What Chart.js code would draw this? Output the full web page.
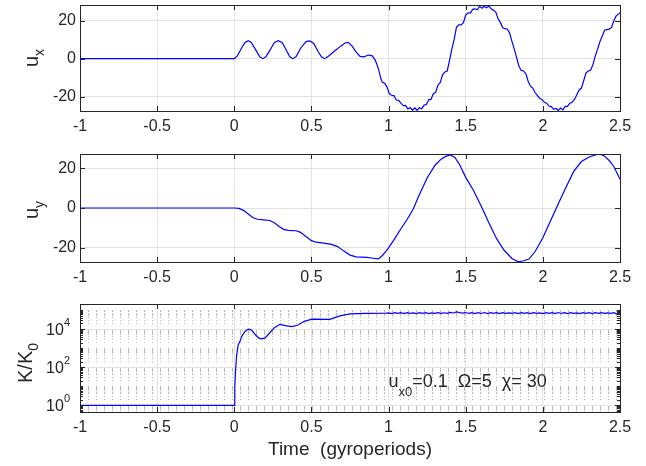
<!DOCTYPE html>
<html>
<head>
<meta charset="utf-8">
<script src="https://cdn.jsdelivr.net/npm/chart.js@4.4.0/dist/chart.umd.min.js"></script>
<style>
  html, body { margin: 0; padding: 0; background: #fff; }
  .panel { position: absolute; left: 0; width: 646px; }
</style>
</head>
<body>
<div class="panel" style="top:0;height:140px"><canvas id="cUx"></canvas></div>
<div class="panel" style="top:140px;height:150px"><canvas id="cUy"></canvas></div>
<div class="panel" style="top:290px;height:176px"><canvas id="cK"></canvas></div>
<script>
// ---- data ----
var timeTicks = [-1, -0.5, 0, 0.5, 1, 1.5, 2, 2.5];
var uTicks = [-20, 0, 20];
var kMajor = [1, 100, 10000];
var kGrid = [0.5, 0.6, 0.7, 0.8, 0.9, 1, 2, 3, 4, 5, 6, 7, 8, 9, 10, 20, 30, 40, 50, 60, 70, 80, 90,
  100, 200, 300, 400, 500, 600, 700, 800, 900, 1000, 2000, 3000, 4000, 5000, 6000, 7000, 8000, 9000,
  10000, 20000, 30000, 40000, 50000, 60000, 70000, 80000, 90000, 100000, 200000];

var tUx = [-1, 0, 0.02, 0.05, 0.07, 0.09, 0.11, 0.14, 0.165, 0.185, 0.205, 0.235, 0.26, 0.285, 0.31, 0.34,
  0.36, 0.378, 0.4, 0.43, 0.465, 0.49, 0.515, 0.545, 0.565, 0.585, 0.61, 0.65, 0.69, 0.72, 0.74, 0.765,
  0.79, 0.815, 0.84, 0.87, 0.895, 0.915, 0.935, 0.95, 0.96, 0.975, 0.99, 1.005, 1.02, 1.035, 1.05, 1.065,
  1.08, 1.095, 1.11, 1.125, 1.14, 1.155, 1.17, 1.185, 1.2, 1.215, 1.23, 1.245, 1.26, 1.275, 1.29, 1.305,
  1.32, 1.335, 1.35, 1.365, 1.38, 1.395, 1.41, 1.425, 1.44, 1.455, 1.47, 1.485, 1.5, 1.515, 1.53, 1.545,
  1.56, 1.575, 1.59, 1.605, 1.62, 1.635, 1.65, 1.665, 1.68, 1.695, 1.71, 1.725, 1.74, 1.755, 1.77, 1.785,
  1.8, 1.815, 1.83, 1.845, 1.86, 1.875, 1.89, 1.905, 1.92, 1.935, 1.95, 1.965, 1.98, 1.995, 2.01, 2.025,
  2.04, 2.055, 2.07, 2.085, 2.1, 2.115, 2.13, 2.145, 2.16, 2.175, 2.19, 2.205, 2.22, 2.235, 2.25, 2.265,
  2.28, 2.295, 2.31, 2.325, 2.34, 2.355, 2.37, 2.385, 2.4, 2.415, 2.43, 2.445, 2.46, 2.475, 2.49, 2.5];
var ux = [0, 0, 1.5, 6, 8.6, 9.5, 8.6, 4.5, 1, 0, 1, 5, 8.6, 9.5, 8.5, 4,
  1, 0, 1, 5.5, 9, 9.4, 8, 3.5, 1, 0, 1.3, 4, 6.6, 8.4, 8.5, 6.5,
  3.5, 1.2, 1, 1.9, 1.5, -1, -5.5, -10.5, -12.5, -13, -15, -18.5, -19.3, -19.5, -21.8, -22,
  -23.5, -24.8, -24.6, -26.5, -25.8, -27.2, -26, -27.2, -25.8, -26.5, -24.5, -24.2, -21.7, -21.5, -18.5, -17.8,
  -14, -12.5, -8.5, -7, -6.5, -1, 5, 10, 16.5, 17.8, 17.8, 19, 23, 24.2, 24, 26,
  26.3, 25.8, 27.6, 26.6, 27.6, 26.8, 27.8, 26.3, 25.5, 24.6, 21, 19, 16.3, 15.8, 15.5, 13.5,
  9, 5, 0.5, -4, -6.2, -6.5, -8, -12, -14.5, -15.5, -18, -19.5, -21, -21.5, -23, -23.5,
  -25, -25.3, -26.7, -26.3, -27.3, -26, -27, -25.2, -25.2, -23.5, -23, -21.5, -19, -16.5, -15.5, -11.5,
  -7.5, -6.5, -6, -3, 1.5, 5, 9, 12, 15, 15.3, 15.6, 16.5, 20, 22.5, 23.5, 24.2];

var tUy = [-1, 0, 0.03, 0.06, 0.09, 0.12, 0.15, 0.19, 0.23, 0.26, 0.29, 0.32, 0.35, 0.4, 0.43, 0.46,
  0.5, 0.53, 0.58, 0.63, 0.67, 0.71, 0.75, 0.79, 0.86, 0.9, 0.935, 0.96, 0.98, 1.0, 1.04, 1.08,
  1.12, 1.16, 1.2, 1.25, 1.3, 1.34, 1.37, 1.4, 1.43, 1.46, 1.5, 1.55, 1.6, 1.65, 1.7, 1.75,
  1.8, 1.84, 1.87, 1.91, 1.95, 2.0, 2.05, 2.1, 2.15, 2.2, 2.25, 2.3, 2.34, 2.37, 2.4, 2.43, 2.46, 2.5];
var uy = [0, 0, -0.2, -1.2, -3, -4.8, -5.7, -6, -6.3, -7.5, -9.3, -10.8, -11.3, -11.5, -12.3, -14.2,
  -16.5, -17.3, -17.8, -18.4, -19.5, -21.8, -23.8, -24.7, -25, -25.4, -25.7, -24, -22.2, -20.2, -15.5, -10.5,
  -5.8, -0.5, 6.8, 15.2, 21.5, 24.7, 26.1, 26.8, 25.6, 22, 15.5, 9, 1, -7.5, -15.5, -21.5,
  -25.5, -27.2, -26.8, -25.8, -22, -15, -6.5, 2.2, 10.5, 18.5, 23.5, 25.8, 26.8, 27.3, 26.2, 24, 21, 14.5];

var tK = [-1, 0, 0.003, 0.008, 0.015, 0.025, 0.037, 0.05, 0.069, 0.085, 0.097, 0.115, 0.14, 0.16, 0.178, 0.2,
  0.23, 0.26, 0.296, 0.33, 0.372, 0.41, 0.45, 0.502, 0.62, 0.685, 0.75, 0.85, 0.987,
  1.0, 1.02, 1.04, 1.06, 1.08, 1.1, 1.12, 1.14, 1.16, 1.18, 1.2, 1.22, 1.24, 1.26, 1.28, 1.3,
  1.32, 1.34, 1.36, 1.38, 1.4, 1.42, 1.44, 1.46, 1.48, 1.5, 1.52, 1.54, 1.56, 1.58, 1.6, 1.62,
  1.64, 1.66, 1.68, 1.7, 1.72, 1.74, 1.76, 1.78, 1.8, 1.82, 1.84, 1.86, 1.88, 1.9, 1.92, 1.94,
  1.96, 1.98, 2.0, 2.02, 2.04, 2.06, 2.08, 2.1, 2.12, 2.14, 2.16, 2.18, 2.2, 2.22, 2.24, 2.26,
  2.28, 2.3, 2.32, 2.34, 2.36, 2.38, 2.4, 2.42, 2.44, 2.46, 2.48, 2.5];
var kRatio = [1, 1, 8, 60, 400, 1500, 2300, 4500, 7400, 9500, 10000, 8500, 4800, 3400, 3100, 3500,
  6500, 12000, 18000, 15500, 13800, 16000, 25000, 34000, 33000, 50000, 64000, 68000, 70000,
  72000, 66000, 74000, 67000, 73000, 66000, 74000, 67000, 72000, 66000, 73000, 67000, 74000, 66000, 72000, 67000,
  74000, 67000, 73000, 68000, 76000, 71000, 80000, 74000, 70000, 75000, 67000, 74000, 66000, 73000, 67000, 75000,
  66000, 74000, 67000, 73000, 66000, 74000, 67000, 72000, 67000, 73000, 66000, 74000, 67000, 73000, 66000, 74000,
  67000, 72000, 66000, 74000, 67000, 73000, 66000, 75000, 67000, 73000, 66000, 74000, 67000, 72000, 66000, 73000,
  67000, 74000, 66000, 73000, 67000, 74000, 68000, 72000, 68000, 74000, 62000, 75000];

// ---- styling ----
var FONT = '"Liberation Sans", Arial, Helvetica, sans-serif';
var INK = '#262626';
var GRID = '#e3e3e3';

function pts(xs, ys) {
  return xs.map(function (x, i) { return { x: x, y: ys[i] }; });
}
function isMajorK(v) {
  return kMajor.some(function (m) { return Math.abs(v - m) < m * 1e-6; });
}

// extra per-chart drawing (labels with subscripts, inward ticks, box)
var extras = {
  cUx: { label: [['u', 0], ['x', 1]], lx: 38, ly: 58 },
  cUy: { label: [['u', 0], ['y', 1]], lx: 38, ly: 70 },
  cK: { label: [['K/K', 0], ['0', 1]], lx: 32, ly: 73, log: true }
};

function drawParts(ctx, parts, x, y, mainSize, subSize, subDrop, align) {
  var w = 0;
  parts.forEach(function (p) {
    ctx.font = (p[1] ? subSize : mainSize) + 'px ' + FONT;
    w += ctx.measureText(p[0]).width;
  });
  var cx = align === 'center' ? x - w / 2 : x;
  ctx.textAlign = 'left';
  ctx.textBaseline = 'alphabetic';
  parts.forEach(function (p) {
    ctx.font = (p[1] ? subSize : mainSize) + 'px ' + FONT;
    ctx.fillText(p[0], cx, y + (p[1] ? subDrop : 0));
    cx += ctx.measureText(p[0]).width;
  });
}

var framePlugin = {
  id: 'frame',
  afterDatasetsDraw: function (chart) {
    var ex = extras[chart.canvas.id];
    var ctx = chart.ctx, a = chart.chartArea;
    var xs = chart.scales.x, ys = chart.scales.y;
    ctx.save();
    ctx.strokeStyle = INK;
    ctx.lineWidth = 1;
    ctx.beginPath();
    xs.ticks.forEach(function (t) {
      var px = Math.round(xs.getPixelForValue(t.value)) + 0.5;
      ctx.moveTo(px, a.bottom); ctx.lineTo(px, a.bottom - 5);
      ctx.moveTo(px, a.top); ctx.lineTo(px, a.top + 5);
    });
    ys.ticks.forEach(function (t) {
      var len = (!ex.log || isMajorK(t.value)) ? 5 : 3;
      var py = Math.round(ys.getPixelForValue(t.value)) + 0.5;
      if (py < a.top || py > a.bottom) return;
      ctx.moveTo(a.left, py); ctx.lineTo(a.left + len, py);
      ctx.moveTo(a.right, py); ctx.lineTo(a.right - len, py);
    });
    ctx.stroke();
    ctx.strokeRect(Math.round(a.left) + 0.5, Math.round(a.top) + 0.5,
      Math.round(a.right - a.left), Math.round(a.bottom - a.top));

    ctx.fillStyle = INK;
    if (ex.log) {
      // log tick labels 10^n
      kMajor.forEach(function (v) {
        var py = ys.getPixelForValue(v);
        var exp = String(Math.round(Math.log10(v)));
        ctx.font = '11px ' + FONT;
        var ew = ctx.measureText(exp).width;
        ctx.textAlign = 'right';
        ctx.textBaseline = 'alphabetic';
        ctx.fillText(exp, 70, py - 3);
        ctx.font = '16px ' + FONT;
        ctx.fillText('10', 70 - ew, py + 6);
      });
      // parameter annotation
      drawParts(ctx, [['u', 0], ['x0', 1], ['=0.1  \u03A9=5  \u03C7= 30', 0]],
        xs.getPixelForValue(1), 97, 18, 13, 9, 'left');
    }
    // rotated y label
    ctx.translate(ex.lx, ex.ly);
    ctx.rotate(-Math.PI / 2);
    drawParts(ctx, ex.label, 0, 0, 20, 14, 6, 'center');
    ctx.restore();
  }
};

function xAxis(h, withTitle) {
  return {
    type: 'linear', min: -1, max: 2.5,
    afterBuildTicks: function (s) { s.ticks = timeTicks.map(function (v) { return { value: v }; }); },
    afterFit: function (s) { s.height = h; },
    grid: { color: GRID, drawTicks: false },
    border: { display: false },
    ticks: { font: { family: FONT, size: 16 }, color: INK, padding: 6, maxRotation: 0, autoSkip: false,
      callback: function (v) { return String(v); } },
    title: { display: withTitle, text: 'Time  (gyroperiods)', color: INK,
      font: { family: FONT, size: 19 }, padding: { top: 0, bottom: 5 } }
  };
}

function fitY(s) {
  s.width = 80;
  s.paddingTop = 0;
  s.paddingBottom = 0;
}

function uChart(id, xs, ys, top, h, lo, hi) {
  return new Chart(document.getElementById(id), {
    type: 'line',
    data: { datasets: [{ data: pts(xs, ys), borderColor: '#0000ff', borderWidth: 1.2, pointRadius: 0, tension: 0 }] },
    options: {
      responsive: true, maintainAspectRatio: false, animation: false,
      layout: { padding: { top: top, right: 26, left: 0, bottom: 0 } },
      plugins: { legend: { display: false }, tooltip: { enabled: false } },
      scales: {
        x: xAxis(h, false),
        y: {
          min: lo, max: hi,
          afterBuildTicks: function (s) { s.ticks = uTicks.map(function (v) { return { value: v }; }); },
          afterFit: fitY,
          grid: { color: GRID, drawTicks: false },
          border: { display: false },
          ticks: { font: { family: FONT, size: 16 }, color: INK, padding: 4,
            callback: function (v) { return String(v); } }
        }
      }
    },
    plugins: [framePlugin]
  });
}

uChart('cUx', tUx, ux, 5, 29, -27.6, 28.3);
uChart('cUy', tUy, uy, 14, 28, -27.3, 27.3);

new Chart(document.getElementById('cK'), {
  type: 'line',
  data: { datasets: [{ data: pts(tK, kRatio), borderColor: '#0000ff', borderWidth: 1.2, pointRadius: 0, tension: 0 }] },
  options: {
    responsive: true, maintainAspectRatio: false, animation: false,
    layout: { padding: { top: 14, right: 26, left: 0, bottom: 0 } },
    plugins: { legend: { display: false }, tooltip: { enabled: false } },
    scales: {
      x: xAxis(54, true),
      y: {
        type: 'logarithmic', min: 0.45, max: 210000,
        afterBuildTicks: function (s) { s.ticks = kGrid.map(function (v) { return { value: v }; }); },
        afterFit: fitY,
        grid: {
          drawTicks: false,
          color: function (c) { return c.tick && isMajorK(c.tick.value) ? GRID : '#b8b8b8'; }
        },
        border: {
          display: false,
          dash: function (c) { return c.tick && !isMajorK(c.tick.value) ? [1, 7] : []; }
        },
        ticks: { display: false }
      }
    }
  },
  plugins: [framePlugin]
});
</script>
</body>
</html>
